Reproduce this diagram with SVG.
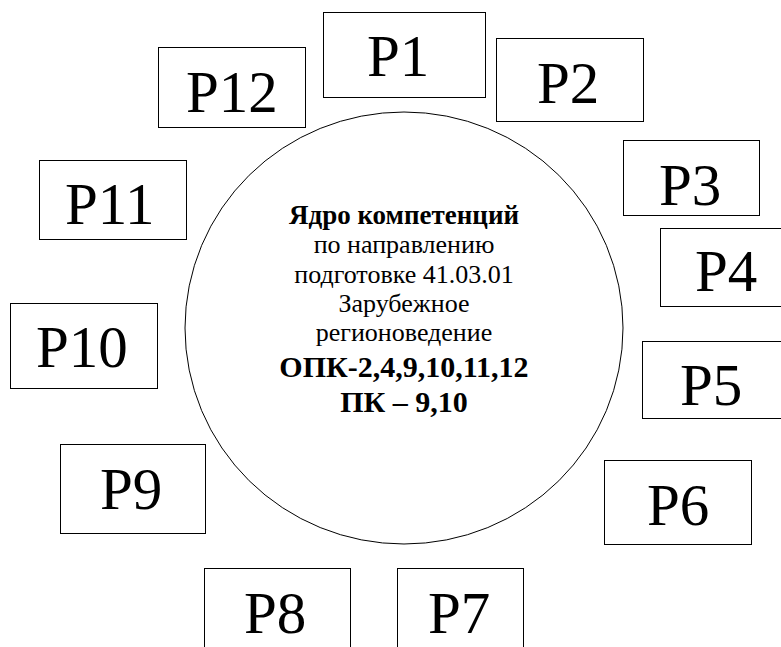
<svg xmlns="http://www.w3.org/2000/svg" width="781" height="647" viewBox="0 0 781 647">
<style>
.box{fill:#fff;stroke:#000;stroke-width:1}
.lbl{font-family:"Liberation Serif","Times New Roman",serif;font-size:59px;fill:#000}
.ct{font-family:"Liberation Serif","Times New Roman",serif;font-size:26px;fill:#000;text-anchor:middle}
.b{font-weight:bold}
.h{font-size:27px}
.big{font-size:30px}
</style>
<rect width="781" height="647" fill="#fff"/>
<g id="connectors"></g>
<g id="core">
<ellipse cx="404" cy="328" rx="219" ry="216" fill="none" stroke="#000" stroke-width="1"/>
<text class="ct b h" x="404" y="224">Ядро компетенций</text>
<text class="ct" x="404" y="253">по направлению</text>
<text class="ct" x="404" y="283">подготовке 41.03.01</text>
<text class="ct" x="404" y="312">Зарубежное</text>
<text class="ct" x="404" y="341">регионоведение</text>
<text class="ct b big" x="404" y="377">ОПК-2,4,9,10,11,12</text>
<text class="ct b big" x="404" y="412">ПК – 9,10</text>
</g>
<g id="P1"><rect class="box" x="323.5" y="12.5" width="162" height="85"/><text class="lbl" x="367" y="76">P1</text></g>
<g id="P2"><rect class="box" x="496.5" y="38.5" width="147" height="83"/><text class="lbl" x="537" y="103">P2</text></g>
<g id="P3"><rect class="box" x="623.5" y="140.5" width="136" height="75"/><text class="lbl" x="659" y="205">P3</text></g>
<g id="P4"><rect class="box" x="660.5" y="228.5" width="130" height="78"/><text class="lbl" x="695" y="291">P4</text></g>
<g id="P5"><rect class="box" x="642.5" y="341.5" width="150" height="77"/><text class="lbl" x="680" y="405">P5</text></g>
<g id="P6"><rect class="box" x="604.5" y="460.5" width="147" height="84"/><text class="lbl" x="647" y="525">P6</text></g>
<g id="P7"><rect class="box" x="397.5" y="568.5" width="126" height="90"/><text class="lbl" x="428" y="633">P7</text></g>
<g id="P8"><rect class="box" x="204.5" y="568.5" width="146" height="90"/><text class="lbl" x="244" y="633">P8</text></g>
<g id="P9"><rect class="box" x="60.5" y="444.5" width="145" height="89"/><text class="lbl" x="100" y="509">P9</text></g>
<g id="P10"><rect class="box" x="10.5" y="303.5" width="147" height="85"/><text class="lbl" x="36" y="367">P10</text></g>
<g id="P11"><rect class="box" x="39.5" y="160.5" width="147" height="79"/><text class="lbl" x="65" y="224">P11</text></g>
<g id="P12"><rect class="box" x="158.5" y="47.5" width="147" height="80"/><text class="lbl" x="186" y="112">P12</text></g>
</svg>
